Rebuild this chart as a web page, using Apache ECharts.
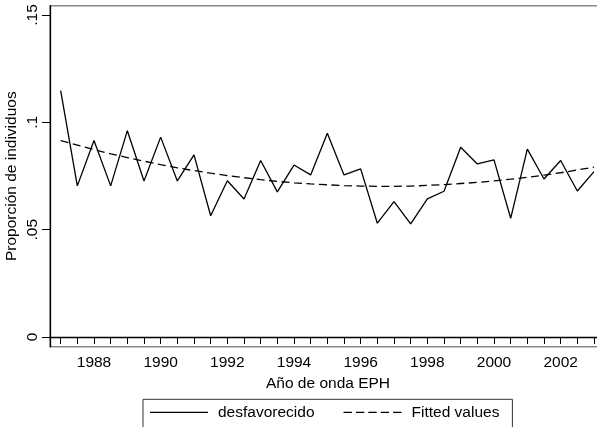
<!DOCTYPE html>
<html>
<head>
<meta charset="utf-8">
<script src="https://cdn.jsdelivr.net/npm/echarts@6/dist/echarts.min.js"></script>
<style>
html,body{margin:0;padding:0;background:#fff;}
#c{width:597px;height:427px;}
</style>
</head>
<body>
<div id="c"></div>
<script>
// Survey waves (semi-annual), year values
const years = [1987, 1987.5, 1988, 1988.5, 1989, 1989.5, 1990, 1990.5, 1991, 1991.5,
  1992, 1992.5, 1993, 1993.5, 1994, 1994.5, 1995, 1995.5, 1996, 1996.5,
  1997, 1997.5, 1998, 1998.5, 1999, 1999.5, 2000, 2000.5, 2001, 2001.5,
  2002, 2002.5, 2003];
const desfavorecido = [0.1148, 0.0704, 0.0915, 0.0704, 0.0961, 0.0727, 0.0931, 0.0727, 0.0848, 0.0565,
  0.0728, 0.0643, 0.0822, 0.0676, 0.0801, 0.0755, 0.0949, 0.0755, 0.0783, 0.0530,
  0.0631, 0.0527, 0.0643, 0.0679, 0.0884, 0.0806, 0.0825, 0.0553, 0.0875, 0.0736,
  0.0822, 0.0680, 0.0770];
const fittedValues = [0.0915, 0.0894, 0.0873, 0.0853, 0.0836, 0.0819, 0.0803, 0.0788, 0.0775, 0.0763,
  0.0752, 0.0742, 0.0733, 0.0725, 0.0718, 0.0713, 0.0709, 0.0705, 0.0703, 0.0702,
  0.0702, 0.0703, 0.0706, 0.0710, 0.0715, 0.0720, 0.0727, 0.0735, 0.0744, 0.0754,
  0.0765, 0.0778, 0.0791];
const xTickValues = [1987, 1987.5, 1988, 1988.5, 1989, 1989.5, 1990, 1990.5, 1991, 1991.5,
  1992, 1992.5, 1993, 1993.5, 1994, 1994.5, 1995, 1995.5, 1996, 1996.5,
  1997, 1997.5, 1998, 1998.5, 1999, 1999.5, 2000, 2000.5, 2001, 2001.5,
  2002, 2002.5, 2003];
const xLabelValues = [1988, 1990, 1992, 1994, 1996, 1998, 2000, 2002];
const yTickValues = [0, 0.05, 0.1, 0.15];

const seriesNames = ['desfavorecido', 'Fitted values'];
const FONT = 'Liberation Sans, Arial, sans-serif';

// legend glyphs drawn in a 58x14 box (tiny corner dots fix the box size)
const boxCorners = 'M0,0h0.01v0.01h-0.01z M58,14h-0.01v-0.01h0.01z ';
const solidIcon = 'path://' + boxCorners + 'M0,6.35h58v1.3h-58z';
const dashedIcon = 'path://' + boxCorners +
  'M0,6.35h8.4v1.3h-8.4z M12.4,6.35h8.4v1.3h-8.4z M24.8,6.35h8.4v1.3h-8.4z ' +
  'M37.2,6.35h8.4v1.3h-8.4z M49.6,6.35h8.4v1.3h-8.4z';

const chart = echarts.init(document.getElementById('c'), null, {renderer: 'canvas'});
chart.setOption({
  animation: false,
  backgroundColor: '#fff',
  textStyle: {fontFamily: FONT, color: '#000'},
  grid: {
    left: 50, top: 5.7, right: -9, bottom: 80.3,
    containLabel: false, outerBoundsMode: 'none',
    show: true, borderColor: '#888', borderWidth: 1.5, backgroundColor: 'transparent'
  },
  legend: {
    left: 143, top: 399.3,
    padding: [5, 13, 30, 7],
    itemWidth: 58, itemHeight: 14, itemGap: 29,
    borderColor: '#333', borderWidth: 1,
    icon: solidIcon,
    itemStyle: {color: '#000', borderWidth: 0},
    textStyle: {fontFamily: FONT, fontSize: 15.5, color: '#000', padding: [0, 0, 0, 5]},
    data: [
      {name: seriesNames[0], icon: solidIcon},
      {name: seriesNames[1], icon: dashedIcon}
    ]
  },
  xAxis: {
    type: 'value', min: 1986.68, max: 2003.36,
    name: 'Año de onda EPH', nameLocation: 'middle', nameGap: 24,
    nameTextStyle: {fontFamily: FONT, fontSize: 15.5, color: '#000'},
    axisLine: {show: true, lineStyle: {color: '#000', width: 1.3}},
    axisTick: {show: true, length: 7, customValues: xTickValues, lineStyle: {color: '#000', width: 1}},
    axisLabel: {customValues: xLabelValues, margin: 8, fontFamily: FONT, fontSize: 15.5, color: '#000',
      formatter: v => String(v)},
    splitLine: {show: false}
  },
  yAxis: {
    type: 'value', min: -0.0045, max: 0.1543,
    name: 'Proporción de individuos', nameLocation: 'middle', nameGap: 30, nameRotate: 90,
    nameMoveOverlap: false,
    nameTextStyle: {fontFamily: FONT, fontSize: 15.5, color: '#000'},
    axisLine: {show: true, lineStyle: {color: '#000', width: 1.3}},
    axisTick: {show: true, length: 8, customValues: yTickValues, lineStyle: {color: '#000', width: 1}},
    axisLabel: {customValues: yTickValues, rotate: 90, margin: 9, fontFamily: FONT, fontSize: 15.5, color: '#000',
      formatter: v => v === 0 ? '0' : String(+v.toFixed(2)).replace(/^0/, '')},
    splitLine: {show: false}
  },
  series: [
    {
      name: seriesNames[0], type: 'line', symbol: 'none', legendIcon: solidIcon,
      data: years.map((y, i) => [y, desfavorecido[i]]),
      lineStyle: {color: '#000', width: 1.3}, itemStyle: {color: '#000'}
    },
    {
      name: seriesNames[1], type: 'line', symbol: 'none', legendIcon: dashedIcon,
      data: years.map((y, i) => [y, fittedValues[i]]),
      lineStyle: {color: '#000', width: 1.3, type: [8, 4.5]}, itemStyle: {color: '#000'}
    }
  ]
});
</script>
</body>
</html>
